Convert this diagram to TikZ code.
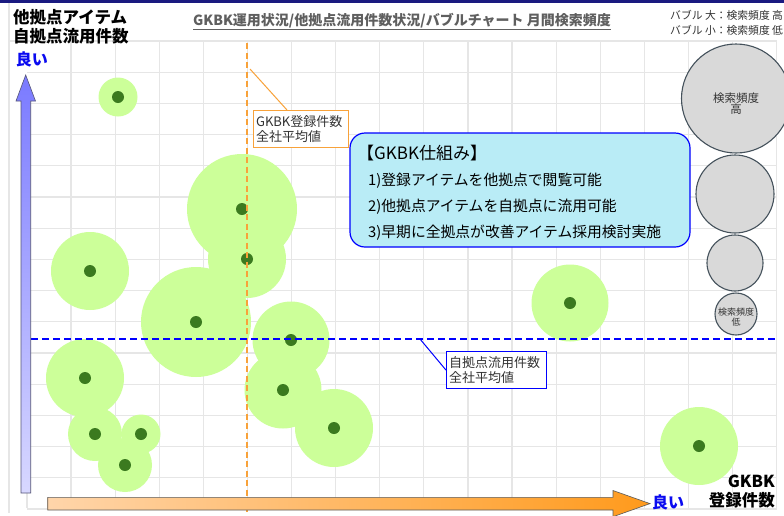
\documentclass[tikz,border=0pt]{standalone}
\usepackage{fontspec}
\setmainfont{Noto Sans CJK JP}
\usetikzlibrary{calc}
\definecolor{gridc}{HTML}{E6E6E6}
\definecolor{bubc}{HTML}{CCFF99}
\definecolor{dotc}{HTML}{3B7A1F}
\definecolor{orc}{HTML}{F8A23A}
\definecolor{legc}{HTML}{D9D9D9}
\definecolor{legb}{HTML}{45525C}
\definecolor{infoc}{HTML}{B9ECF6}
\definecolor{titc}{HTML}{5F5F5F}
\definecolor{txtc}{HTML}{333333}
\definecolor{navy}{HTML}{1A1A80}
\definecolor{goodc}{HTML}{0A0AF0}
\definecolor{yatop}{HTML}{7A7AFF}
\definecolor{yabot}{HTML}{D8D8FF}
\definecolor{yaedge}{HTML}{555577}
\definecolor{xaleft}{HTML}{FFD5AA}
\definecolor{xaright}{HTML}{FF9A1C}
\definecolor{xaedge}{HTML}{5A5A5A}
\tikzset{
  gridl/.style={gridc, line width=1.2},
  bub/.style={circle, fill=bubc, inner sep=0, outer sep=0},
  dotm/.style={circle, fill=dotc, inner sep=0, minimum size=12},
  legbub/.style={circle, fill=legc, draw=legb, line width=1.1, inner sep=0, align=center, text=txtc},
  callout/.style={fill=white, line width=1.2, anchor=north west, align=left, inner sep=2.5, text=txtc, font=\fontsize{13}{15.5}\selectfont},
  infotxt/.style={anchor=west, text=black, inner sep=0, font=\fontsize{14.8}{17}\selectfont},
  bigtitle/.style={font=\bfseries\fontsize{16.5}{19}\selectfont, inner sep=0},
}
\begin{document}
\begin{tikzpicture}[x=1pt,y=-1pt]
\useasboundingbox (0,0) rectangle (784,515);
\fill[white] (0,0) rectangle (784,515);
\fill[navy] (0,0) rectangle (784,2.5);
% frame and grid
\draw[gridl] (9,3) -- (9,513);
\draw[gridl] (9,41) -- (777,41);
\foreach \i in {0,...,16} \draw[gridl] ({71+44.1*\i},41) -- ({71+44.1*\i},508);
\foreach \k in {1,...,15} \draw[gridl] (27,{41+31.2*\k}) -- (777,{41+31.2*\k});
\draw[gridl] (27,493) -- (27,508);
% bubbles
\foreach \n/\x/\y/\r in {1/118/97/19.5, 2/242/209/55, 3/247/259/39, 4/90/271/39, 5/196/322/55, 6/291/340/38.5, 7/85/378/39, 8/283/390/38.5, 9/334/428/39, 10/95/434/27, 11/141/434/19.5, 12/125/465/27, 13/570/303/38.5, 14/699/446/39}
  \node[bub, minimum size={2*\r}] (b\n) at (\x,\y) {};
\foreach \n in {1,...,14} \node[dotm] (d\n) at (b\n.center) {};
% average lines
\draw[orc, line width=1.6, dash pattern=on 6 off 3.5] (247,43) -- (247,512);
\draw[blue, line width=1.4, dash pattern=on 7 off 4] (31,339) -- (776,339);
% callouts
\node[callout, draw=orc, text width=90, minimum height=37] (obox) at (253,110) {GKBK登録件数\\全社平均値};
\coordinate (oc) at (250,69);
\draw[orc, line width=1] (oc) -- ($(obox.north west)+(34,0)$);
\node[callout, draw=blue, text width=95, minimum height=37] (bbox) at (446,351) {自拠点流用件数\\全社平均値};
\coordinate (bc) at (420,339);
\draw[blue, line width=1] (bc) -- (bbox.west);
% info box
\node[draw=blue, fill=infoc, line width=1.2, rounded corners=15, minimum width=340, minimum height=114, inner sep=0] (info) at (520,190) {};
\node[infotxt, font=\fontsize{17}{19}\selectfont] (it0) at (357,153) {【GKBK仕組み】};
\node[infotxt] (it1) at (368,181) {1)登録アイテムを他拠点で閲覧可能};
\node[infotxt] (it2) at (368,207) {2)他拠点アイテムを自拠点に流用可能};
\node[infotxt] (it3) at (368,233) {3)早期に全拠点が改善アイテム採用検討実施};
% legend bubbles
\node[legbub, minimum size=109] (l1) at (736,98.5) {};
\node[text=txtc, align=center, font=\fontsize{11.5}{11}\selectfont, inner sep=0] (l1t) at (736,104) {検索頻度\\高};
\node[legbub, minimum size=78] (l2) at (735,194) {};
\node[legbub, minimum size=56] (l3) at (735,263) {};
\node[legbub, minimum size=42] (l4) at (736,314) {};
\node[text=txtc, align=center, font=\fontsize{9}{10}\selectfont, inner sep=0] (l4t) at (736,317) {検索頻度\\低};
% axes arrows
\shadedraw[top color=yatop, bottom color=yabot, draw=yaedge, line width=0.6]
  (21,493) -- (21,101) -- (16,101) -- (25.7,75) -- (35.5,101) -- (30.7,101) -- (30.7,493) -- cycle;
\shadedraw[left color=xaleft, right color=xaright, draw=xaedge, line width=0.6]
  (47.7,497.3) -- (613,497.3) -- (613,490.5) -- (650,503.6) -- (613,516.7) -- (613,510) -- (47.7,510) -- cycle;
% texts
\node[bigtitle, anchor=west, align=left, text=black, font=\bfseries\fontsize{16.5}{18.5}\selectfont] (ytitle) at (13,27) {他拠点アイテム\\自拠点流用件数};
\node[bigtitle, text=goodc, font=\bfseries\fontsize{16}{18}\selectfont] (ygood) at (32,59) {良い};
\node[bigtitle, text=goodc, font=\bfseries\fontsize{16}{18}\selectfont] (xgood) at (668,502) {良い};
\node[bigtitle, anchor=east, align=right, text=black, font=\bfseries\fontsize{16.5}{19}\selectfont] (xtitle) at (775,492) {GKBK\\登録件数};
\node[text=titc, font=\bfseries\fontsize{14}{15}\selectfont, inner sep=0] (title) at (402,21.5) {\underline{GKBK運用状況/他拠点流用件数状況/バブルチャート 月間検索頻度}};
\node[text=txtc, anchor=west, align=left, font=\fontsize{10.8}{15.5}\selectfont, inner sep=0] (legtxt) at (670,23) {バブル 大：検索頻度 高\\バブル 小：検索頻度 低};
\end{tikzpicture}
\end{document}
